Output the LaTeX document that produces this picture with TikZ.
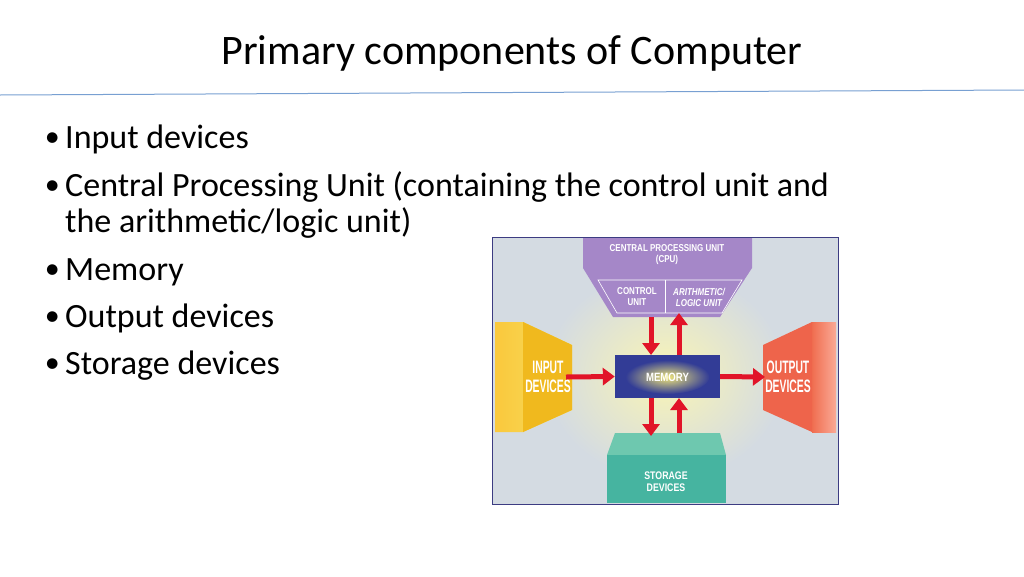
\documentclass[tikz,border=0pt]{standalone}
\usepackage{fontspec}
\setmainfont{Carlito}
\newfontfamily\dg{Liberation Sans}
\usetikzlibrary{arrows.meta}
\begin{document}
\begin{tikzpicture}[x=1pt,y=-1pt,
  lab/.style={text=white,font=\dg\bfseries\fontsize{10}{11}\selectfont,align=center,inner sep=0pt,xscale=0.8,transform shape},
  big/.style={font=\dg\bfseries\fontsize{18}{19}\selectfont,xscale=0.72},
  bul/.style={anchor=base west,inner sep=0pt,font=\fontsize{34}{36}\selectfont},
  rarr/.style={draw={rgb,255:red,225;green,20;blue,40},line width=5pt,-{Triangle[length=12pt,width=17pt]}}]
\useasboundingbox (0,0) rectangle (1024,576);
\fill[white] (0,0) rectangle (1024,576);
\node[font=\fontsize{42}{48}\selectfont] (title) at (512,53) {Primary components of Computer};
\coordinate (l1) at (0,95); \coordinate (l2) at (1024,90);
\draw[color={rgb,255:red,120;green,160;blue,210},line width=1pt] (l1) -- (l2);
\foreach \y/\t [count=\i] in {148/Input devices,196/Central Processing Unit (containing the control unit and,280/Memory,327/Output devices,374/Storage devices}{
  \node[bul] (b\i) at (65,\y) {\t};
  \node[anchor=base east,inner sep=0pt,font=\fontsize{30}{30}\selectfont] (d\i) at (60,\y-2) {\textbullet};
}
\node[bul] (b2b) at (65,232) {the arithmetic/logic unit)};
% diagram
\node[draw={rgb,255:red,60;green,60;blue,130},line width=0.8pt,fill={rgb,255:red,212;green,219;blue,226},minimum width=346pt,minimum height=267pt,inner sep=0pt] (frame) at (665,370.5) {};
\shade[inner color={rgb,255:red,250;green,245;blue,180},outer color={rgb,255:red,212;green,219;blue,226}] (665,375) ellipse (120pt and 105pt);
% CPU
\fill[color={rgb,255:red,165;green,135;blue,200}] (583,238) -- (752,238) -- (752,268) -- (720,317) -- (613,317) -- (583,268) -- cycle;
\draw[white,line width=0.6pt] (598,280) -- (742,280) -- (722,313) -- (617,313) -- cycle;
\draw[white,line width=0.6pt] (665,280) -- (665,313);
\node[lab] (cpu) at (667,255) {CENTRAL PROCESSING UNIT\\(CPU)};
\node[lab] (cu) at (637,297) {CONTROL\\UNIT};
\node[lab,font=\dg\bfseries\itshape\fontsize{10}{11}\selectfont] (alu) at (699,297) {ARITHMETIC/\\LOGIC UNIT};
% memory
\node[fill={rgb,255:red,50;green,60;blue,150},minimum width=105pt,minimum height=43pt,inner sep=0pt] (mem) at (667.5,376.5) {};
\shade[inner color={rgb,255:red,240;green,230;blue,120},outer color={rgb,255:red,50;green,60;blue,150}] (667.5,377) ellipse (42pt and 17pt);
\node[lab,font=\dg\bfseries\fontsize{12}{13}\selectfont] (memt) at (667.5,377) {MEMORY};
% input
\shade[left color={rgb,255:red,250;green,200;blue,60},right color={rgb,255:red,245;green,225;blue,100}] (495,322) -- (523,322) -- (572,345) -- (572,410) -- (523,432) -- (495,432) -- cycle;
\fill[color={rgb,255:red,240;green,185;blue,30}] (523,322) -- (572,345) -- (572,410) -- (523,432) -- cycle;
\node[lab,big] (in) at (548,377) {INPUT\\DEVICES};
% output
\shade[right color={rgb,255:red,250;green,170;blue,150},left color={rgb,255:red,240;green,110;blue,80}] (812,322) -- (836,322) -- (836,432) -- (812,432) -- cycle;
\fill[color={rgb,255:red,238;green,100;blue,75}] (763,345) -- (812,322) -- (812,432) -- (763,410) -- cycle;
\node[lab,big] (out) at (788,377) {OUTPUT\\DEVICES};
% storage
\fill[color={rgb,255:red,110;green,200;blue,175}] (615,433) -- (720,433) -- (726,455) -- (607,455) -- cycle;
\fill[color={rgb,255:red,70;green,180;blue,160}] (607,455) rectangle (726,503);
\node[lab,font=\dg\bfseries\fontsize{11}{12}\selectfont] (st) at (666,482) {STORAGE\\DEVICES};
% arrows
\coordinate (m1) at (651,355); \coordinate (m2) at (679,355);
\coordinate (m3) at (651,398); \coordinate (m4) at (679,398);
\coordinate (c1) at (651,317); \coordinate (c2) at (679,313);
\coordinate (s1) at (651,436); \coordinate (s2) at (679,433);
\coordinate (i1) at (566,377); \coordinate (o1) at (765,377);
\draw[rarr] (i1) -- (mem.west);
\draw[rarr] (mem.east) -- (o1);
\draw[rarr] (c1) -- (m1);
\draw[rarr] (m2) -- (c2);
\draw[rarr] (m3) -- (s1);
\draw[rarr] (s2) -- (m4);
\end{tikzpicture}
\end{document}
